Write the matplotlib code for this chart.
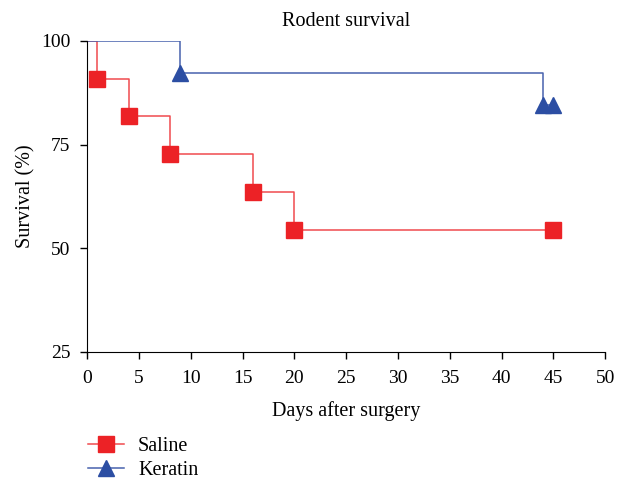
import matplotlib.pyplot as plt
from matplotlib.lines import Line2D

plt.rcParams['font.family'] = ['Liberation Serif', 'DejaVu Serif']

# Kaplan-Meier style survival data
saline_days = [0, 1, 4, 8, 16, 20, 45]
saline_surv = [100, 90.9, 81.8, 72.7, 63.6, 54.5, 54.5]
saline_mark_days = [1, 4, 8, 16, 20, 45]
saline_mark_surv = [90.9, 81.8, 72.7, 63.6, 54.5, 54.5]

keratin_days = [0, 9, 44, 45]
keratin_surv = [100, 92.3, 84.6, 84.6]
keratin_mark_days = [9, 44, 45]
keratin_mark_surv = [92.3, 84.6, 84.6]

red = '#ec2226'
red_line = '#f04a4e'
blue = '#2c4ea3'
blue_line = '#4862ad'

fig = plt.figure(figsize=(6.22, 4.82), dpi=100)
ax = fig.add_axes([0.140, 0.270, 0.833, 0.645])

ax.step(saline_days, saline_surv, where='post', color=red_line, lw=1.1, zorder=2)
ax.plot(saline_mark_days, saline_mark_surv, 's', color=red, ms=11.5, zorder=3)
ax.step(keratin_days, keratin_surv, where='post', color=blue_line, lw=1.1, zorder=2)
ax.plot(keratin_mark_days, keratin_mark_surv, '^', color=blue, ms=11, zorder=3)

ax.set_xlim(0, 50)
ax.set_ylim(25, 100)
ax.set_xticks(range(0, 51, 5))
ax.set_yticks([25, 50, 75, 100])
ax.spines['top'].set_visible(False)
ax.spines['right'].set_visible(False)
ax.tick_params(labelsize=14, length=5, width=1)
ax.tick_params(axis='y', pad=7)
ax.tick_params(axis='x', pad=8)
ax.set_xlabel('Days after surgery', fontsize=14.5, labelpad=10)
ax.set_ylabel('Survival (%)', fontsize=14.5, labelpad=4)
ax.set_title('Rodent survival', fontsize=14.5, pad=11)

handles = [
    Line2D([], [], color=red_line, marker='s', mfc=red, mec=red, ms=11.5, lw=1.1),
    Line2D([], [], color=blue_line, marker='^', mfc=blue, mec=blue, ms=11, lw=1.1),
]
fig.legend(handles, ['Saline', 'Keratin'], loc='upper left', bbox_to_anchor=(0.141, 0.094),
           frameon=False, fontsize=14.5, handlelength=1.8, handletextpad=0.7,
           labelspacing=0.27, borderpad=0, borderaxespad=0)

fig.savefig('out.png', dpi=100)
